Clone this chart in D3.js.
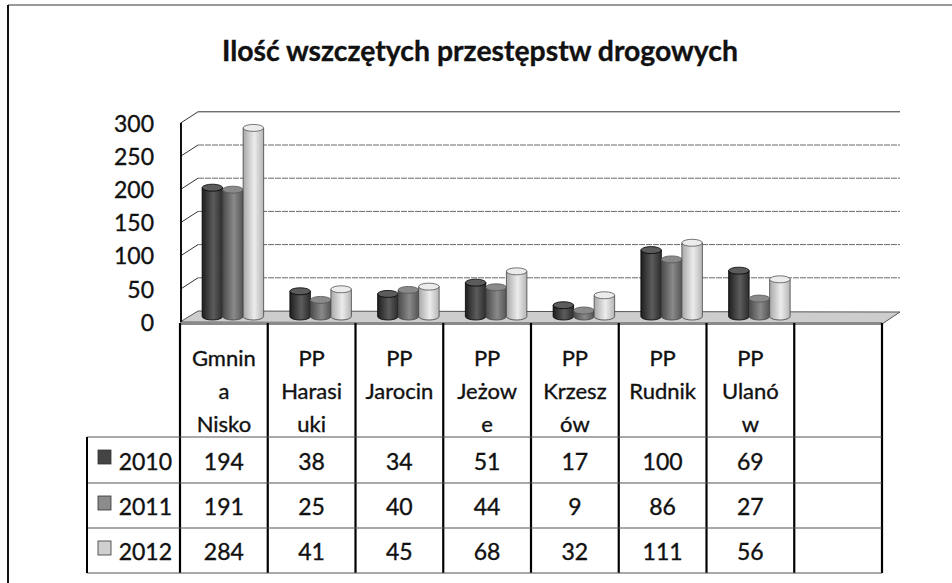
<!DOCTYPE html>
<html>
<head>
<meta charset="utf-8">
<script src="https://cdn.jsdelivr.net/npm/d3@7"></script>
<style>
  body { margin: 0; background: #fff; }
  svg { display: block; font-family: Lato, "Open Sans", sans-serif; }
  text { fill: #111; stroke: #111; stroke-width: 0.35; }
</style>
</head>
<body>
<svg id="chart" width="952" height="583"></svg>
<script>
// data
const title = "Ilość wszczętych przestępstw drogowych";
const categories = ["Gmnina Nisko", "PP Harasiuki", "PP Jarocin", "PP Jeżowe", "PP Krzeszów", "PP Rudnik", "PP Ulanów"];
// how excel wrapped the header cells
const categoryLines = [["Gmnin","a","Nisko"], ["PP","Harasi","uki"], ["PP","Jarocin"], ["PP","Jeżow","e"], ["PP","Krzesz","ów"], ["PP","Rudnik"], ["PP","Ulanó","w"]];
const years = ["2010", "2011", "2012"];
const v2010 = [194, 38, 34, 51, 17, 100, 69];
const v2011 = [191, 25, 40, 44, 9, 86, 27];
const v2012 = [284, 41, 45, 68, 32, 111, 56];
const yTicks = [0, 50, 100, 150, 200, 250, 300];

const series = [v2010, v2011, v2012];
const fills = [["#1e1e1e", "#5c5c5c", "#2c2c2c"], ["#4a4a4a", "#8a8a8a", "#555"], ["#a8a8a8", "#ececec", "#b5b5b5"]];
const keyFill = ["#444", "#8c8c8c", "#d0d0d0"];

const svg = d3.select("#chart");
const depthX = 18, depthY = -11;   // 3d offset of back wall

let x = d3.scaleBand()
    .domain(categories.concat([""]))
    .range([180, 882]);
let y = d3.scaleLinear()
    .domain([0, 300])
    .range([322, 122.8]);

// gradients for cylinders
const defs = svg.append("defs");
fills.forEach(function(f, i){
    let g = defs.append("linearGradient").attr("id", "cyl" + i);
    g.append("stop").attr("offset", "0%").attr("stop-color", f[0]);
    g.append("stop").attr("offset", "55%").attr("stop-color", f[1]);
    g.append("stop").attr("offset", "100%").attr("stop-color", f[2]);
});

// outer frame (left and top only, the scan cuts the rest)
svg.append("line").attr("x1", 8).attr("y1", 5).attr("x2", 952).attr("y2", 5)
    .attr("stroke", "#777").attr("stroke-width", 1.5);
svg.append("line").attr("x1", 8).attr("y1", 5).attr("x2", 8).attr("y2", 583)
    .attr("stroke", "#111").attr("stroke-width", 2);

// title
svg.append("text")
    .attr("x", 480).attr("y", 61)
    .attr("text-anchor", "middle")
    .attr("font-weight", "bold")
    .attr("font-size", 28)
    .attr("textLength", 516)
    .attr("lengthAdjust", "spacingAndGlyphs")
    .text(title);

// floor
const x0 = x.range()[0], x1 = x.range()[1];
svg.append("polygon")
    .attr("points", [[x0, y(0)], [x1, y(0) + 2], [x1 + depthX, y(0) + depthY + 1], [x0 + depthX, y(0) + depthY]].join(" "))
    .attr("fill", "#cdcdcd").attr("stroke", "#555").attr("stroke-width", 1);
svg.append("rect").attr("x", x0).attr("y", y(0)).attr("width", x1 - x0).attr("height", 3)
    .attr("fill", "#8a8a8a");

// back wall gridlines + side wall diagonals
let grid = svg.append("g");
grid.selectAll("line.back")
    .data(yTicks.filter(d => d > 0)).enter()
    .append("line")
    .attr("class", "back")
    .attr("x1", x0 + depthX).attr("x2", x1 + depthX)
    .attr("y1", d => y(d) + depthY).attr("y2", d => y(d) + depthY)
    .attr("stroke", d => d == 300 ? "#333" : "#6a6a6a")
    .attr("stroke-width", 1)
    .attr("stroke-dasharray", d => d == 300 ? null : "6,1");
grid.selectAll("line.side")
    .data(yTicks.filter(d => d > 0)).enter()
    .append("line")
    .attr("class", "side")
    .attr("x1", x0 + 1).attr("x2", x0 + depthX)
    .attr("y1", d => y(d)).attr("y2", d => y(d) + depthY)
    .attr("stroke", "#333").attr("stroke-width", 1);

// front axis line
svg.append("line").attr("x1", x0 + 1).attr("x2", x0 + 1).attr("y1", y(300)).attr("y2", y(0))
    .attr("stroke", "#111").attr("stroke-width", 2);

// y axis labels
let yAxis = d3.axisLeft(y).tickValues(yTicks).tickSize(0).tickPadding(0);
let axisG = svg.append("g")
    .attr("transform", "translate(154,0)")
    .call(yAxis);
axisG.select(".domain").remove();
axisG.selectAll("text")
    .attr("font-family", "Lato, sans-serif")
    .attr("font-size", 23)
    .attr("dy", "0.36em");

// bars as cylinders
const barW = 20.5, ry = 3.5;
const baseY = y(0) + depthY / 2;
let bars = svg.append("g");
categories.forEach(function(c, ci){
    let gx = x(c) + x.bandwidth() / 2 + depthX / 2 - barW * 1.5;
    series.forEach(function(s, si){
        let bx = gx + si * barW;
        let top = y(s[ci]) + depthY / 2;
        let g = bars.append("g");
        g.append("path")
            .attr("d", "M" + bx + "," + top + " L" + bx + "," + baseY +
                " A" + barW / 2 + "," + ry + " 0 0 0 " + (bx + barW) + "," + baseY +
                " L" + (bx + barW) + "," + top + " Z")
            .attr("fill", "url(#cyl" + si + ")")
            .attr("stroke", si == 0 ? "#000" : "#444")
            .attr("stroke-width", 0.8);
        g.append("ellipse")
            .attr("cx", bx + barW / 2).attr("cy", top)
            .attr("rx", barW / 2).attr("ry", ry)
            .attr("fill", fills[si][1])
            .attr("stroke", si == 0 ? "#000" : "#555")
            .attr("stroke-width", 0.8);
    });
});

// data table
const rowY = [437, 483, 528, 573];
let table = svg.append("g");
// vertical column lines
table.selectAll("line.col")
    .data(x.domain().concat(["end"])).enter()
    .append("line")
    .attr("class", "col")
    .attr("x1", (d, i) => x0 + i * x.bandwidth())
    .attr("x2", (d, i) => x0 + i * x.bandwidth())
    .attr("y1", y(0) + 1).attr("y2", rowY[3])
    .attr("stroke", "#000").attr("stroke-width", 2.2);
// row lines
table.selectAll("line.row")
    .data(rowY).enter()
    .append("line")
    .attr("class", "row")
    .attr("x1", 87).attr("x2", x1)
    .attr("y1", d => d).attr("y2", d => d)
    .attr("stroke", "#555").attr("stroke-width", 1.2);
table.append("line").attr("x1", 87).attr("x2", 87).attr("y1", rowY[0]).attr("y2", rowY[3])
    .attr("stroke", "#000").attr("stroke-width", 2);

// header cells
categories.forEach(function(c, ci){
    let cx = x(c) + x.bandwidth() / 2;
    table.selectAll(null)
        .data(categoryLines[ci]).enter()
        .append("text")
        .attr("x", cx)
        .attr("y", (d, i) => 366 + i * 33)
        .attr("text-anchor", "middle")
        .attr("font-size", 22)
        .text(d => d);
});

// value rows with legend keys
series.forEach(function(s, si){
    let base = rowY[si + 1] - 13;
    table.append("rect")
        .attr("x", 98).attr("y", rowY[si] + 13).attr("width", 13).attr("height", 14)
        .attr("fill", keyFill[si]).attr("stroke", "#333").attr("stroke-width", 0.8);
    table.append("text")
        .attr("x", 172).attr("y", base)
        .attr("text-anchor", "end")
        .attr("font-size", 23)
        .text(years[si]);
    table.selectAll(null)
        .data(s).enter()
        .append("text")
        .attr("x", (d, i) => x(categories[i]) + x.bandwidth() / 2)
        .attr("y", base)
        .attr("text-anchor", "middle")
        .attr("font-size", 23)
        .text(d => d);
});
</script>
</body>
</html>
